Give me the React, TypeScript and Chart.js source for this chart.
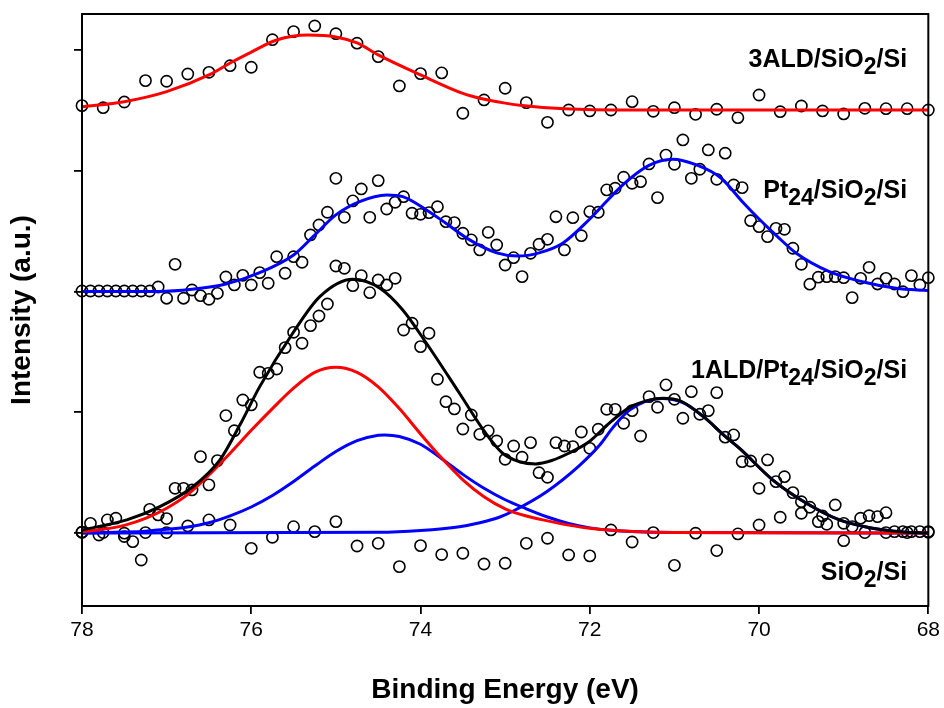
import React, { useEffect, useRef } from 'react';
import { Chart, registerables } from 'chart.js';

Chart.register(...registerables);

const FONT = "'Liberation Sans', Arial, Helvetica, sans-serif";

// Binding-energy grids of the measured spectra (eV)
const ENERGY_FINE: number[] = Array.from({ length: 101 }, (_, i) => +(78 - i * 0.1).toFixed(2));
const ENERGY_COARSE: number[] = Array.from({ length: 41 }, (_, i) => +(78 - i * 0.25).toFixed(2));

const X_TICKS = [78, 76, 74, 72, 70, 68];
const Y_TICKS = [0, 1, 2, 3, 4];

// ---- measured data (arbitrary units, offset stacked) ----
const ALD3_COUNTS = [
  3.539, 3.522, 3.569, 3.746, 3.741, 3.801, 3.815, 3.870, 3.857, 4.085,
  4.152, 4.199, 4.135, 4.056, 3.945, 3.702, 3.804, 3.810, 3.476, 3.586,
  3.683, 3.564, 3.401, 3.503, 3.495, 3.503, 3.572, 3.492, 3.522, 3.467,
  3.509, 3.439, 3.627, 3.489, 3.536, 3.495, 3.470, 3.517, 3.514, 3.514,
  3.503,
];

const PT24_COUNTS = [
  2.004, 2.004, 2.004, 2.004, 2.004, 2.004, 2.004, 2.004, 2.004, 2.037,
  1.944, 2.225, 1.944, 2.012, 1.965, 1.935, 1.985, 2.120, 2.054, 2.134,
  2.054, 2.156, 2.068, 2.288, 2.151, 2.288, 2.242, 2.468, 2.551, 2.656,
  2.937, 2.614, 2.750, 2.849, 2.614, 2.918, 2.683, 2.739, 2.785, 2.648,
  2.639, 2.653, 2.702, 2.578, 2.570, 2.482, 2.427, 2.344, 2.490, 2.385,
  2.219, 2.280, 2.123, 2.316, 2.391, 2.432, 2.619, 2.344, 2.611, 2.462,
  2.661, 2.656, 2.841, 2.855, 2.946, 2.896, 2.909, 3.056, 2.777, 3.130,
  3.053, 3.255, 2.937, 3.012, 3.172, 2.929, 3.145, 2.882, 2.860, 2.586,
  2.537, 2.454, 2.523, 2.515, 2.358, 2.225, 2.060, 2.118, 2.123, 2.123,
  2.114, 1.949, 2.109, 2.200, 2.062, 2.109, 2.062, 1.998, 2.131, 2.054,
  2.114,
];

const ALD1_COUNTS = [
  0.006, 0.080, -0.017, 0.108, 0.122, -0.002, -0.072, -0.224, 0.196, 0.149,
  0.119, 0.370, 0.370, 0.356, 0.632, 0.398, 0.599, 0.972, 0.847, 1.101,
  1.060, 1.331, 1.322, 1.358, 1.535, 1.662, 1.571, 1.717, 1.797, 1.896,
  2.211, 2.192, 2.048, 2.131, 1.990, 2.095, 2.054, 2.109, 1.681, 1.737,
  1.543, 1.654, 1.273, 1.087, 1.027, 0.861, 0.977, 0.817, 0.845, 0.762,
  0.610, 0.720, 0.627, 0.748, 0.499, 0.461, 0.748, 0.720, 0.715, 0.836,
  0.701, 0.859, 1.024, 1.024, 0.908, 1.013, 0.803, 1.129, 1.041, 1.226,
  1.107, 0.950, 1.170, 0.983, 1.013, 1.162, 0.793, 0.812, 0.590, 0.596,
  0.370, 0.605, 0.425, 0.466, 0.334, 0.259, 0.213, 0.094, 0.072, 0.232,
  0.080, 0.052, 0.122, 0.143, 0.135, 0.168, 0.011, 0.011, 0.011, 0.011,
  0.011,
];

const SIO2_COUNTS = [
  0.006, 0.003, -0.030, 0.003, 0.003, 0.058, 0.108, 0.066, -0.127, -0.036,
  0.052, 0.011, 0.094, -0.108, -0.086, -0.279, -0.105, -0.179, -0.168, -0.257,
  -0.251, -0.086, -0.044, -0.182, -0.190, 0.025, -0.075, 0.003, -0.268, -0.002,
  -0.146, -0.008, 0.066, 0.130, 0.163, 0.141, -0.064, 0.003, 0.003, 0.003,
  0.006,
];

// ---- fitted curves ----
const FIT_3ALD_E = [78, 77.5, 77, 76.5, 76.25, 76, 75.7, 75.33, 75, 74.75, 74.5, 74, 73.5, 73.3, 73, 72.8, 72.3, 71.5, 68];
const FIT_3ALD_I = [3.530, 3.572, 3.655, 3.793, 3.892, 3.983, 4.083, 4.124, 4.108, 4.058, 3.959, 3.793, 3.640, 3.600, 3.560, 3.540, 3.513, 3.503, 3.503];

const FIT_PT24_E = [78, 77.1, 76.7, 76.3, 75.9, 75.5, 75.27, 75.0, 74.72, 74.4, 74.21, 73.93, 73.7, 73.42, 73.1, 72.85, 72.6, 72.32, 72.0, 71.6, 71.3, 71.02, 70.74, 70.45, 70.2, 70.0, 69.76, 69.56, 69.17, 68.78, 68.38, 68];
const FIT_PT24_I = [2.000, 2.000, 2.018, 2.062, 2.156, 2.302, 2.454, 2.634, 2.744, 2.799, 2.785, 2.675, 2.565, 2.427, 2.320, 2.293, 2.320, 2.400, 2.600, 2.890, 3.045, 3.095, 3.048, 2.940, 2.745, 2.600, 2.440, 2.316, 2.164, 2.081, 2.027, 2.007];

const FIT_ALD1_E = [78, 77.47, 77.08, 76.69, 76.37, 76.13, 75.9, 75.51, 75.19, 74.8, 74.48, 74.21, 73.93, 73.54, 73.23, 73.03, 72.83, 72.64, 72.45, 72.25, 72.0, 71.8, 71.53, 71.3, 71.14, 70.92, 70.66, 70.4, 70.23, 69.84, 69.44, 69.05, 68.66, 68.3, 68];
const FIT_ALD1_I = [0.025, 0.108, 0.218, 0.383, 0.605, 0.900, 1.212, 1.654, 1.957, 2.101, 2.027, 1.847, 1.571, 1.157, 0.826, 0.660, 0.590, 0.572, 0.600, 0.660, 0.760, 0.890, 1.040, 1.100, 1.115, 1.090, 0.965, 0.800, 0.700, 0.440, 0.246, 0.108, 0.039, 0.008, 0.0];

const PEAK1_E = [78, 77.75, 77.5, 77.25, 77, 76.75, 76.5, 76.25, 76, 75.75, 75.5, 75.25, 75, 74.75, 74.5, 74.25, 74, 73.75, 73.5, 73.25, 73, 72.75, 72.5, 72.25, 72, 71.5, 71, 68];
const PEAK1_I = [0.011, 0.030, 0.063, 0.120, 0.205, 0.320, 0.480, 0.660, 0.850, 1.030, 1.200, 1.330, 1.372, 1.330, 1.210, 1.030, 0.820, 0.620, 0.440, 0.300, 0.200, 0.140, 0.100, 0.065, 0.038, 0.012, 0.003, 0.0];

const PEAK2_E = [78, 77.5, 77.25, 77, 76.75, 76.5, 76.25, 76, 75.75, 75.5, 75.25, 75, 74.75, 74.5, 74.42, 74.25, 74, 73.75, 73.5, 73.25, 73, 72.75, 72.5, 72.25, 72, 71.75, 71.5, 71, 68];
const PEAK2_I = [0.0, 0.008, 0.015, 0.030, 0.050, 0.085, 0.142, 0.215, 0.310, 0.426, 0.554, 0.674, 0.764, 0.809, 0.812, 0.799, 0.735, 0.615, 0.485, 0.370, 0.275, 0.200, 0.132, 0.078, 0.042, 0.022, 0.011, 0.003, 0.0];

const PEAK3_E = [78, 74.5, 74.0, 73.54, 73.3, 73.07, 72.91, 72.51, 72.12, 71.88, 71.73, 71.53, 71.15, 70.9, 70.66, 70.4, 70.23, 69.84, 69.44, 69.05, 68.66, 68.3, 68];
const PEAK3_I = [0.0, 0.005, 0.020, 0.052, 0.085, 0.130, 0.180, 0.342, 0.560, 0.730, 0.870, 1.019, 1.114, 1.080, 0.965, 0.800, 0.700, 0.440, 0.246, 0.108, 0.039, 0.008, 0.0];

// Series labels: [text, isSubscript]
const SERIES_LABELS: { parts: [string, boolean][]; e: number; v: number }[] = [
  { parts: [['3ALD/SiO', false], ['2', true], ['/Si', false]], e: 68.25, v: 3.86 },
  { parts: [['Pt', false], ['24', true], ['/SiO', false], ['2', true], ['/Si', false]], e: 68.25, v: 2.774 },
  { parts: [['1ALD/Pt', false], ['24', true], ['/SiO', false], ['2', true], ['/Si', false]], e: 68.25, v: 1.281 },
  { parts: [['SiO', false], ['2', true], ['/Si', false]], e: 68.25, v: -0.389 },
];

const toPoints = (xs: number[], ys: number[]) => xs.map((x, i) => ({ x, y: ys[i] }));

const curve = (label: string, xs: number[], ys: number[], color: string) => ({
  label,
  data: toPoints(xs, ys),
  showLine: true,
  pointRadius: 0,
  borderColor: color,
  borderWidth: 3,
  cubicInterpolationMode: 'monotone' as const,
  fill: false,
});

const markers = (label: string, xs: number[], ys: number[]) => ({
  label,
  data: toPoints(xs, ys),
  showLine: false,
  pointRadius: 5.6,
  pointBorderWidth: 1.6,
  pointBorderColor: '#000',
  pointBackgroundColor: 'rgba(0,0,0,0)',
  pointStyle: 'circle' as const,
  clip: false as any,
});

const framePlugin = {
  id: 'frame',
  afterDraw(chart: any) {
    const { ctx, chartArea: a } = chart;
    ctx.save();
    ctx.strokeStyle = '#000';
    ctx.lineWidth = 2;
    ctx.strokeRect(a.left, a.top, a.right - a.left, a.bottom - a.top);
    ctx.restore();
  },
};

const labelPlugin = {
  id: 'seriesLabels',
  afterDatasetsDraw(chart: any) {
    const { ctx, scales } = chart;
    const mainSize = 25;
    const subSize = 23;
    const subShift = 7;
    ctx.save();
    ctx.fillStyle = '#000';
    ctx.textBaseline = 'alphabetic';
    ctx.textAlign = 'left';
    for (const lab of SERIES_LABELS) {
      let total = 0;
      const widths: number[] = [];
      for (const [t, sub] of lab.parts) {
        ctx.font = `bold ${sub ? subSize : mainSize}px ${FONT}`;
        const w = ctx.measureText(t).width;
        widths.push(w);
        total += w;
      }
      let x = scales.x.getPixelForValue(lab.e) - total;
      const y = scales.y.getPixelForValue(lab.v);
      lab.parts.forEach(([t, sub], i) => {
        ctx.font = `bold ${sub ? subSize : mainSize}px ${FONT}`;
        ctx.fillText(t, x, sub ? y + subShift : y);
        x += widths[i];
      });
    }
    ctx.restore();
  },
};

export default function App() {
  const ref = useRef<HTMLCanvasElement | null>(null);

  useEffect(() => {
    if (!ref.current) return;
    const datasets: any[] = [
      curve('1ALD fit', FIT_ALD1_E, FIT_ALD1_I, '#000000'),
      curve('Peak 1', PEAK1_E, PEAK1_I, '#FF0000'),
      curve('Peak 2', PEAK2_E, PEAK2_I, '#0000FF'),
      curve('Peak 3', PEAK3_E, PEAK3_I, '#0000FF'),
      curve('Pt24 fit', FIT_PT24_E, FIT_PT24_I, '#0000FF'),
      curve('3ALD fit', FIT_3ALD_E, FIT_3ALD_I, '#FF0000'),
      markers('3ALD/SiO2/Si', ENERGY_COARSE, ALD3_COUNTS),
      markers('Pt24/SiO2/Si', ENERGY_FINE, PT24_COUNTS),
      markers('1ALD/Pt24/SiO2/Si', ENERGY_FINE, ALD1_COUNTS),
      markers('SiO2/Si', ENERGY_COARSE, SIO2_COUNTS),
    ];

    const gridOpts = {
      display: true,
      drawOnChartArea: false,
      drawTicks: true,
      tickLength: 8,
      color: '#000',
      lineWidth: 1.8,
    };

    const chart = new Chart(ref.current, {
      type: 'scatter',
      data: { datasets },
      options: {
        responsive: false,
        animation: false,
        devicePixelRatio: 1,
        layout: { padding: { top: 14, right: 15, left: 0, bottom: 0 } },
        plugins: { legend: { display: false }, tooltip: { enabled: false } },
        scales: {
          x: {
            type: 'linear',
            position: 'bottom',
            min: 68,
            max: 78,
            reverse: true,
            afterBuildTicks: (s: any) => {
              s.ticks = X_TICKS.map((v) => ({ value: v }));
            },
            afterFit: (s: any) => {
              s.height = 102;
            },
            ticks: {
              color: '#000',
              font: { family: FONT, size: 21 },
              padding: 4,
              maxRotation: 0,
              callback: (v: any) => String(v),
            },
            grid: gridOpts,
            border: { display: false },
            title: {
              display: true,
              text: 'Binding Energy (eV)',
              color: '#000',
              font: { family: FONT, size: 28, weight: 'bold' },
              padding: { top: 0, bottom: 1 },
            },
          },
          y: {
            type: 'linear',
            position: 'left',
            min: -0.605,
            max: 4.298,
            afterBuildTicks: (s: any) => {
              s.ticks = Y_TICKS.map((v) => ({ value: v }));
            },
            afterFit: (s: any) => {
              s.width = 82;
            },
            ticks: { callback: () => '' },
            grid: gridOpts,
            border: { display: false },
            title: {
              display: true,
              text: 'Intensity (a.u.)',
              color: '#000',
              font: { family: FONT, size: 28, weight: 'bold' },
              padding: { top: 5, bottom: 0 },
            },
          },
        },
      } as any,
      plugins: [framePlugin, labelPlugin],
    });
    return () => chart.destroy();
  }, []);

  return (
    <div style={{ position: 'absolute', left: 0, top: 0, width: 944, height: 708, background: '#fff' }}>
      <canvas ref={ref} width={944} height={708} />
    </div>
  );
}
